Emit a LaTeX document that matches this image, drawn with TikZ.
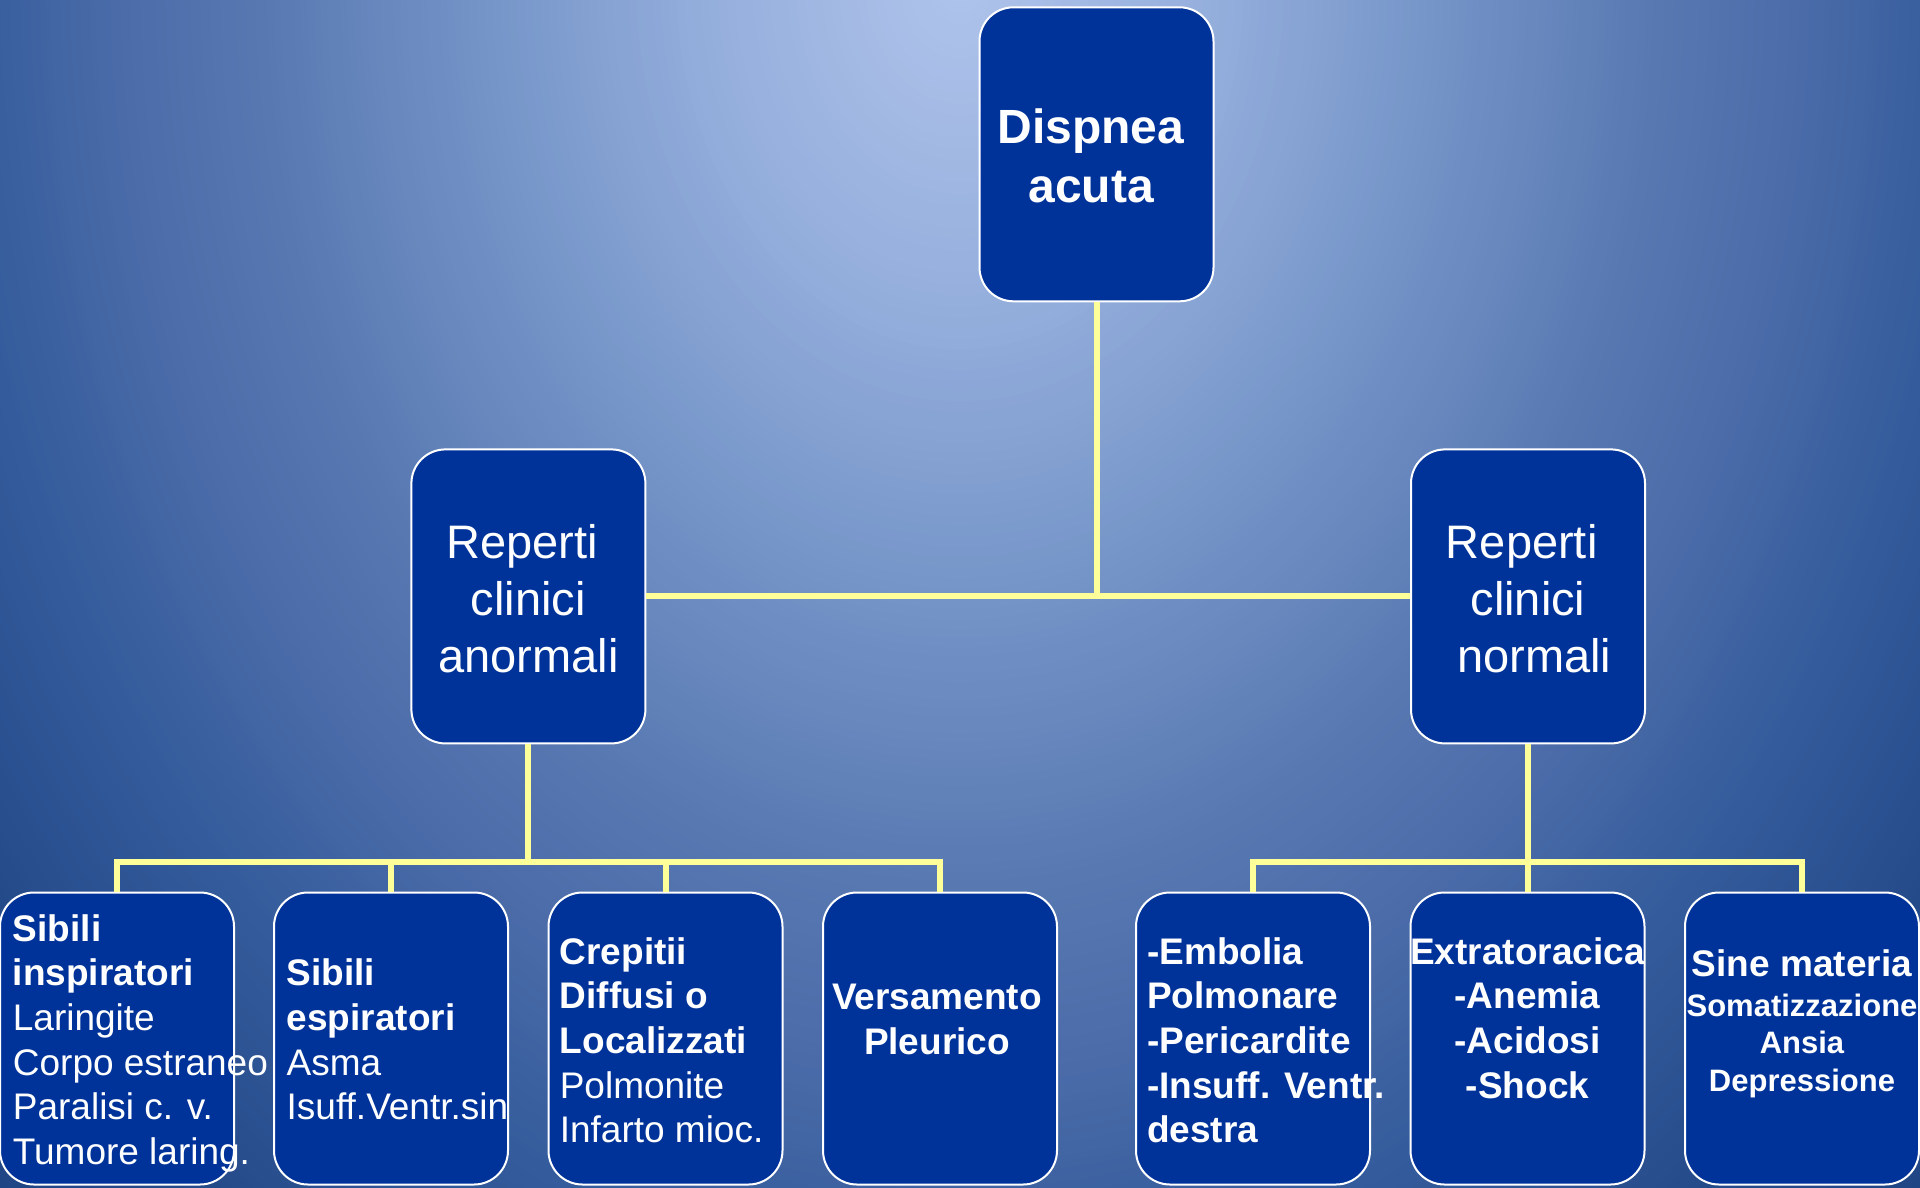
\documentclass[tikz,border=0pt]{standalone}
\usepackage{fontspec}
\setmainfont{Liberation Sans}
\definecolor{boxblue}{HTML}{003399}
\definecolor{linkyellow}{HTML}{FFFF99}
% background ramp, from the bright centre outwards
\definecolor{bga}{HTML}{B0C4EB}
\definecolor{bgb}{HTML}{94AEDC}
\definecolor{bgc}{HTML}{7292C6}
\definecolor{bgd}{HTML}{5878B2}
\definecolor{bge}{HTML}{4A6BA8}
\definecolor{bgf}{HTML}{355C9C}
\definecolor{bgg}{HTML}{244A8A}
\definecolor{bgh}{HTML}{1C4080}
\begin{document}
\begin{tikzpicture}[x=1pt,y=-1pt,
  box/.style={draw=white, line width=2pt, fill=boxblue, rounded corners=34pt,
              minimum width=234pt, inner sep=0pt},
  tallbox/.style={box, minimum height=294pt},
  lowbox/.style={box, minimum height=292pt},
  link/.style={draw=linkyellow, line width=6pt},
  txt/.style={text=white, inner sep=0pt},
  bigtxt/.style={txt, anchor=base, font=\fontsize{48}{59}\selectfont\bfseries},
  midtxt/.style={txt, anchor=base, font=\fontsize{47}{57}\selectfont},
  smalltxt/.style={txt, font=\fontsize{37}{44.7}\selectfont}]

\useasboundingbox (0,0) rectangle (1920,1187);

% radial background, stretched vertically
\begin{scope}
  \clip (0,0) rectangle (1920,1187);
  \fill[bgh] (0,0) rectangle (1920,1187);
  \foreach \ra/\rb/\ca/\cb in {1200/1500/bgg/bgh, 1000/1200/bgf/bgg,
                               850/1000/bge/bgf, 700/850/bgd/bge,
                               500/700/bgc/bgd, 260/500/bgb/bgc,
                               0/260/bga/bgb} {
    \foreach \t in {0,...,29} {
      \pgfmathsetmacro\rr{\rb-(\rb-\ra)*\t/30}
      \pgfmathsetmacro\ry{1.3*\rr}
      \pgfmathtruncatemacro\pp{100*\t/30}
      \fill[\ca!\pp!\cb] (960,-20) ellipse[x radius=\rr pt, y radius=\ry pt];
    }
  }
\end{scope}

% boxes
\node[tallbox] (dispnea) at (1096.5,154.3) {};
\node[tallbox] (anorm) at (528.4,596.4) {};
\node[tallbox] (norm) at (1528,596.4) {};
\node[lowbox] (b1) at (117,1038.5) {};
\node[lowbox] (b2) at (391,1038.5) {};
\node[lowbox] (b3) at (665.5,1038.5) {};
\node[lowbox] (b4) at (940,1038.5) {};
\node[lowbox] (b5) at (1253,1038.5) {};
\node[lowbox] (b6) at (1527.5,1038.5) {};
\node[lowbox] (b7) at (1802,1038.5) {};

% connectors
\coordinate (hub) at (dispnea.south |- anorm.east);
\draw[link] (dispnea.south) -- (hub);
\draw[link] (anorm.east) -- (norm.west);
\path (anorm.south) ++(0,117.6) coordinate (lj);
\path (norm.south) ++(0,117.6) coordinate (rj);
\draw[link] (anorm.south) -- (lj);
\draw[link] (norm.south) -- (rj);
\draw[link] (b1.north) -- (b1.north |- lj) -- (b4.north |- lj) -- (b4.north);
\draw[link] (b2.north |- lj) -- (b2.north);
\draw[link] (b3.north |- lj) -- (b3.north);
\draw[link] (b5.north) -- (b5.north |- rj) -- (b7.north |- rj) -- (b7.north);
\draw[link] (b6.north |- rj) -- (b6.north);

% texts
\node[bigtxt] (t0) at (1091,143) {\begin{tabular}[t]{@{}c@{}}Dispnea\\acuta\end{tabular}};
\node[midtxt] (ta) at (528.4,558.3) {\begin{tabular}[t]{@{}c@{}}Reperti\kern12.6pt\\clinici\\anormali\end{tabular}};
\node[midtxt] (tn) at (1528,558.3) {\begin{tabular}[t]{@{}c@{}}Reperti\kern12.6pt\\clinici\\\kern12.6pt normali\end{tabular}};

\node[smalltxt, anchor=base west] (t1) at (12.7,941) {\begin{tabular}[t]{@{}l@{}}\bfseries Sibili\\\bfseries inspiratori\\Laringite\\Corpo estraneo\\Paralisi c. v.\\Tumore laring.\end{tabular}};
\node[smalltxt, anchor=base west] (t2) at (286.5,985.7) {\begin{tabular}[t]{@{}l@{}}\bfseries Sibili\\\bfseries espiratori\\Asma\\Isuff.Ventr.sin\end{tabular}};
\node[smalltxt, anchor=base west] (t3) at (559.6,964) {\begin{tabular}[t]{@{}l@{}}\bfseries Crepitii\\\bfseries Diffusi o\\\bfseries Localizzati\\Polmonite\\Infarto mioc.\end{tabular}};
\node[smalltxt, anchor=base] (t4) at (937,1009.5) {\begin{tabular}[t]{@{}c@{}}\bfseries Versamento\\\bfseries Pleurico\end{tabular}};
\node[smalltxt, anchor=base west] (t5) at (1147,964) {\begin{tabular}[t]{@{}l@{}}\bfseries -Embolia\\\bfseries Polmonare\\\bfseries -Pericardite\\\bfseries -Insuff. Ventr.\\\bfseries destra\end{tabular}};
\node[smalltxt, anchor=base] (t6) at (1527.5,964) {\begin{tabular}[t]{@{}c@{}}\bfseries Extratoracica\\\bfseries -Anemia\\\bfseries -Acidosi\\\bfseries -Shock\end{tabular}};
\node[txt, anchor=base, font=\fontsize{31}{37.5}\selectfont\bfseries] (t7) at (1802,976.7) {\begin{tabular}[t]{@{}c@{}}{\fontsize{37}{44.7}\selectfont Sine materia}\\[2pt]Somatizzazione\\Ansia\\Depressione\end{tabular}};
\end{tikzpicture}
\end{document}
